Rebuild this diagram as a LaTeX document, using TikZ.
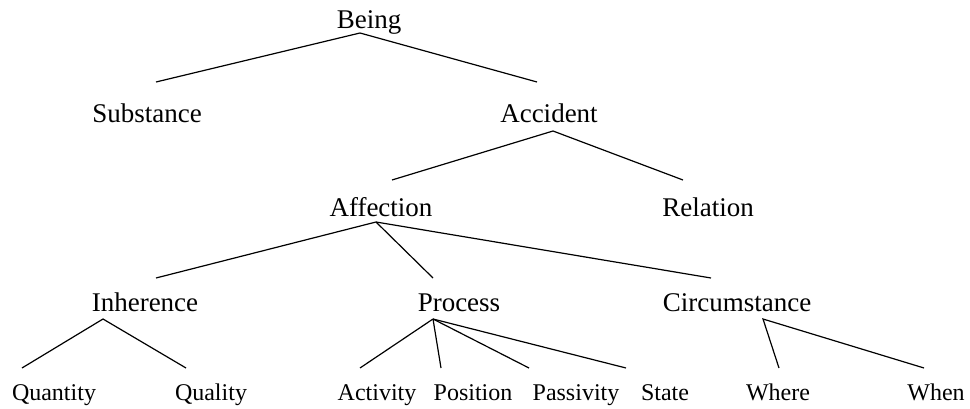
\documentclass[tikz,border=0pt]{standalone}
\usepackage{fontspec}
\setmainfont{Liberation Serif}
\begin{document}
\begin{tikzpicture}[x=1pt,y=-1pt,
  big/.style={anchor=base,inner sep=0pt,font=\fontsize{27}{30}\selectfont},
  small/.style={anchor=base,inner sep=0pt,font=\fontsize{24}{27}\selectfont},
  edge/.style={line width=1.2pt}]
\useasboundingbox (0,0) rectangle (970,409);
% labels
\node[big] (being) at (369,29) {Being};
\node[big] (substance) at (147,123) {Substance};
\node[big] (accident) at (549,123) {Accident};
\node[big] (affection) at (381,216) {Affection};
\node[big] (relation) at (708,216) {Relation};
\node[big] (inherence) at (145,311) {Inherence};
\node[big] (process) at (459,311) {Process};
\node[big] (circumstance) at (737,311) {Circumstance};
\node[small] (quantity) at (54,400) {Quantity};
\node[small] (quality) at (211,400) {Quality};
\node[small] (activity) at (377,400) {Activity};
\node[small] (position) at (473,400) {Position};
\node[small] (passivity) at (576,400) {Passivity};
\node[small] (state) at (665,400) {State};
\node[small] (where) at (778,400) {Where};
\node[small] (when) at (936,400) {When};
% attachment points
\coordinate (being-b) at (360,33);
\coordinate (substance-t) at (156,82);
\coordinate (accident-t) at (537,82);
\coordinate (accident-b) at (553,131);
\coordinate (affection-t) at (392,180);
\coordinate (affection-b) at (376,222);
\coordinate (relation-t) at (683,180);
\coordinate (inherence-t) at (156,278);
\coordinate (inherence-b) at (103,319);
\coordinate (process-t) at (433,278);
\coordinate (process-b) at (433,319);
\coordinate (circumstance-t) at (711,278);
\coordinate (circumstance-b) at (763,319);
\coordinate (quantity-t) at (22,368);
\coordinate (quality-t) at (186,368);
\coordinate (activity-t) at (360,368);
\coordinate (position-t) at (441,368);
\coordinate (passivity-t) at (529,368);
\coordinate (state-t) at (626,368);
\coordinate (where-t) at (779,368);
\coordinate (when-t) at (924,368);
% connectors
\draw[edge] (substance-t) -- (being-b) -- (accident-t);
\draw[edge] (affection-t) -- (accident-b) -- (relation-t);
\draw[edge] (affection-b) -- (inherence-t);
\draw[edge] (affection-b) -- (process-t);
\draw[edge] (affection-b) -- (circumstance-t);
\draw[edge] (quantity-t) -- (inherence-b) -- (quality-t);
\draw[edge] (process-b) -- (activity-t);
\draw[edge] (process-b) -- (position-t);
\draw[edge] (process-b) -- (passivity-t);
\draw[edge] (process-b) -- (state-t);
\draw[edge] (where-t) -- (circumstance-b) -- (when-t);
\end{tikzpicture}
\end{document}
